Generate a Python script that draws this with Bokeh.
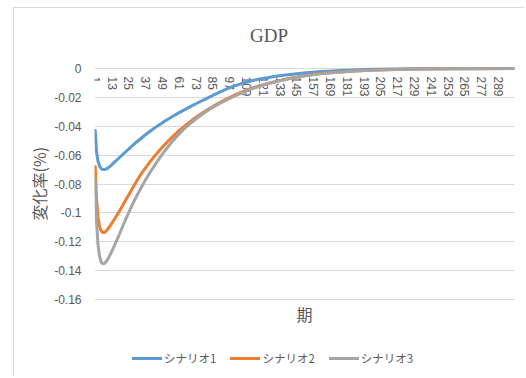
import numpy as np
from bokeh.plotting import figure
from bokeh.models import FixedTicker, Legend, LegendItem, Range1d, Label, Title
from bokeh.core.properties import value
from bokeh.embed import file_html
from bokeh.resources import INLINE

# ---- data -------------------------------------------------------------
periods = [1, 2, 3, 4, 5, 6, 7, 8, 9, 10, 12, 15, 18, 20, 23, 26, 30, 33, 36,
           40, 45, 50, 55, 60, 65, 70, 75, 80, 85, 90, 95, 100, 105, 110, 115,
           120, 125, 130, 140, 150, 160, 170, 180, 190, 200, 215, 230, 250,
           270, 300]

scenario1 = [-0.0430, -0.0580, -0.0642, -0.0673, -0.0690, -0.0698, -0.0700,
             -0.0699, -0.0696, -0.0690, -0.0674, -0.0647, -0.0620, -0.0602,
             -0.0575, -0.0548, -0.0514, -0.0490, -0.0466, -0.0436, -0.0401,
             -0.0369, -0.0339, -0.0311, -0.0285, -0.0259, -0.0234, -0.0210,
             -0.0186, -0.0163, -0.0141, -0.0122, -0.0106, -0.0092, -0.0080,
             -0.0070, -0.0062, -0.0054, -0.0041, -0.0031, -0.0023, -0.0017,
             -0.0012, -0.0008, -0.0006, -0.0004, -0.0002, -0.0001, -0.00006,
             -0.00003]

scenario2 = [-0.0680, -0.0910, -0.1030, -0.1090, -0.1120, -0.1133, -0.1137,
             -0.1133, -0.1124, -0.1112, -0.1085, -0.1040, -0.0993, -0.0960,
             -0.0908, -0.0857, -0.0790, -0.0743, -0.0700, -0.0648, -0.0588,
             -0.0533, -0.0484, -0.0438, -0.0397, -0.0359, -0.0325, -0.0293,
             -0.0264, -0.0236, -0.0210, -0.0187, -0.0166, -0.0147, -0.0130,
             -0.0115, -0.0102, -0.0090, -0.0068, -0.0050, -0.0037, -0.0028,
             -0.0021, -0.0015, -0.0011, -0.0007, -0.0004, -0.0002, -0.0001,
             -0.00005]

scenario3 = [-0.0770, -0.1070, -0.1220, -0.1295, -0.1333, -0.1350, -0.1353,
             -0.1347, -0.1335, -0.1320, -0.1283, -0.1222, -0.1155, -0.1108,
             -0.1040, -0.0975, -0.0895, -0.0840, -0.0788, -0.0722, -0.0648,
             -0.0580, -0.0518, -0.0463, -0.0414, -0.0372, -0.0334, -0.0300,
             -0.0269, -0.0242, -0.0217, -0.0194, -0.0172, -0.0152, -0.0134,
             -0.0118, -0.0104, -0.0092, -0.0070, -0.0052, -0.0039, -0.0029,
             -0.0022, -0.0016, -0.0012, -0.0007, -0.0004, -0.0002, -0.0001,
             -0.00005]

series_names = ["シナリオ1", "シナリオ2", "シナリオ3"]
series_colors = ["#5B9BD5", "#ED7D31", "#A5A5A5"]

x_tick_labels = ["1", "13", "25", "37", "49", "61", "73", "85", "97", "109",
                 "121", "133", "145", "157", "169", "181", "193", "205", "217",
                 "229", "241", "253", "265", "277", "289"]
n_periods = 300

y_ticks = [0, -0.02, -0.04, -0.06, -0.08, -0.1, -0.12, -0.14, -0.16]
y_tick_labels = ["0", "-0.02", "-0.04", "-0.06", "-0.08", "-0.1", "-0.12",
                 "-0.14", "-0.16"]

TEXT = "#595959"
GRID = "#D9D9D9"
TICK_FONT = "Liberation Sans"
CJK_FONT = "Noto Sans CJK JP"

# Plot scale: 231 px per 0.16.  The frame fills the whole canvas height so
# the chart title, axis title and legend all sit inside it.
PX_PER_UNIT = 231 / 0.16
ABOVE_PX, BELOW_PX = 60, 309
y_top = ABOVE_PX / PX_PER_UNIT
y_bottom = -BELOW_PX / PX_PER_UNIT
x_mid = (0.5 + n_periods + 0.5) / 2

# ---- figure -------------------------------------------------------------
p = figure(width=511, height=369, output_backend="svg", toolbar_location=None,
           title=None,
           x_range=Range1d(0.5, n_periods + 0.5),
           y_range=Range1d(y_bottom, y_top),
           x_axis_location=None,
           min_border_left=80, min_border_right=11,
           min_border_top=0, min_border_bottom=0,
           margin=(7, 0, 0, 13),
           styles={"border-left": "1px solid #D9D9D9",
                   "border-top": "1px solid #D9D9D9"})
p.outline_line_color = None
p.background_fill_color = "white"
p.border_fill_color = "white"

p.xgrid.visible = False
p.ygrid.ticker = FixedTicker(ticks=y_ticks)
p.ygrid.grid_line_color = GRID
p.ygrid.grid_line_width = 1

# value axis
yax = p.yaxis[0]
yax.ticker = FixedTicker(ticks=y_ticks)
yax.major_label_overrides = {t: s for t, s in zip(y_ticks, y_tick_labels)}
yax.axis_line_color = None
yax.major_tick_line_color = None
yax.minor_tick_line_color = None
yax.major_tick_out = 0
yax.major_label_standoff = 13
yax.major_label_text_font = TICK_FONT
yax.major_label_text_font_size = "12px"
yax.major_label_text_color = TEXT

# value-axis title, placed along the gridded part of the frame
ytitle = Title(text="変化率(%)", align="left", offset=157, standoff=2,
               text_font=CJK_FONT, text_font_size="16px",
               text_font_style="normal", text_color=TEXT)
p.add_layout(ytitle, "left")

# chart title, centred over the chart area
p.add_layout(Label(x=125.1, y=0.0229, text="GDP", text_align="center",
                   text_baseline="middle", text_font="Liberation Serif",
                   text_font_size="19px", text_color=TEXT))

# period labels hanging from the zero line, read top to bottom
x_ticks = [int(s) for s in x_tick_labels]
p.text(x=x_ticks, y=[0] * len(x_ticks), text=x_tick_labels,
       angle=-np.pi / 2, text_align="left", text_baseline="middle",
       y_offset=8, text_font=value(TICK_FONT), text_font_size="12px",
       text_color=TEXT)

# category-axis title
p.add_layout(Label(x=x_mid, y=-0.1697, text="期",
                   text_align="center", text_baseline="middle",
                   text_font=CJK_FONT, text_font_size="16px",
                   text_color=TEXT))

# ---- series -------------------------------------------------------------
renderers = []
for vals, color in zip([scenario1, scenario2, scenario3], series_colors):
    r = p.line(periods, vals, line_color=color, line_width=3,
               line_join="round", line_cap="round")
    renderers.append(r)

legend = Legend(items=[LegendItem(label=n, renderers=[r])
                       for n, r in zip(series_names, renderers)],
                orientation="horizontal", location=(38, 11))
legend.border_line_color = None
legend.background_fill_alpha = 0
legend.padding = 0
legend.margin = 0
legend.spacing = 14
legend.glyph_width = 30
legend.glyph_height = 16
legend.label_height = 16
legend.label_standoff = 2
legend.label_text_font = CJK_FONT
legend.label_text_font_size = "11.5px"
legend.label_text_color = TEXT
p.add_layout(legend, "center")

open("out.html", "w").write(file_html(p, INLINE))
